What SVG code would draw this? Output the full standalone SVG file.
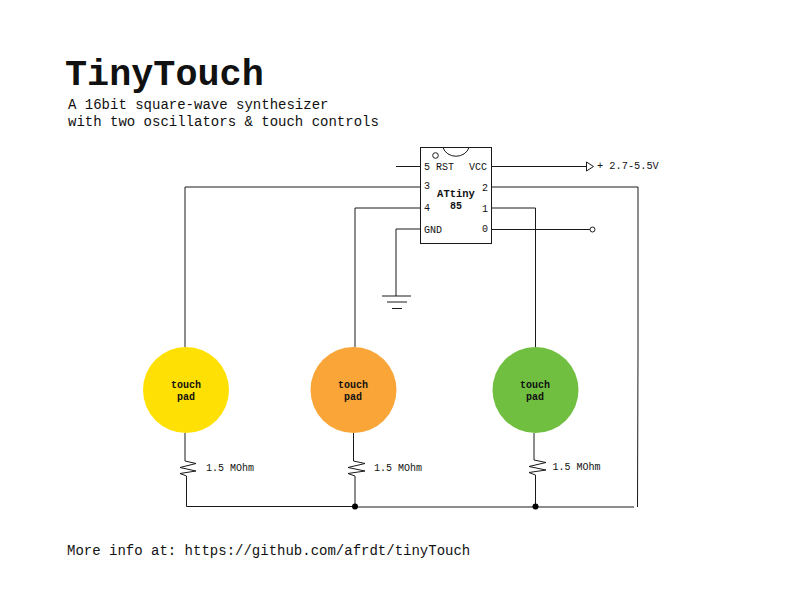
<svg xmlns="http://www.w3.org/2000/svg" width="792" height="612" viewBox="0 0 792 612">
<style>
text{font-family:"Liberation Mono","Courier New",monospace;fill:#111}
.s{font-size:10px}
.m{font-size:14px}
.b{font-weight:bold}
.c{text-anchor:middle}
.w{fill:none;stroke:#1a1a1a;stroke-width:1}
</style>
<rect width="792" height="612" fill="#fff"/>
<g id="titles">
<text x="65" y="85" class="b" style="font-size:36.8px">TinyTouch</text>
<text x="68" y="108.500" class="m">A 16bit square-wave synthesizer</text>
<text x="68" y="125.500" class="m">with two oscillators &amp; touch controls</text>
<text x="67" y="554.500" class="m">More info at: https://github.com/afrdt/tinyTouch</text>
</g>
<g id="connectors">
<path class="w" d="M396 166.500H420"/>
<path class="w" d="M420 187H185V347"/>
<path class="w" d="M420 208H355V347"/>
<path class="w" d="M420 229H396V296"/>
<path class="w" d="M492 166.500H586"/>
<path class="w" d="M492 187H638V350L637.500 507"/>
<path class="w" d="M492 208H535.500V347"/>
<path class="w" d="M492 229.500H590"/>
<path class="w" d="M185 433V461L196 463.500 180 467.500 196 471 180 473.500 186.500 476V506.500H355"/>
<path class="w" d="M355 507H634"/>
<path class="w" d="M353.500 433V461L365 463.500 348 467.500 365 471 348 473.500 355 476V507"/>
<path class="w" d="M534 433V460L546 462.500 529 466.500 546 470 529 472.500 535.500 475V507"/>
<circle cx="355" cy="506.500" r="3" fill="#000"/>
<circle cx="535.500" cy="506.500" r="3" fill="#000"/>
</g>
<g id="chip">
<rect x="420.500" y="147.500" width="71" height="96" fill="#fff" stroke="#1a1a1a"/>
<path class="w" d="M443 147.500A13.500 12 0 0 0 469 147.500"/>
<circle cx="435.500" cy="155.500" r="2.800" class="w"/>
<text x="424" y="170" class="s">5</text>
<text x="436" y="170" class="s">RST</text>
<text x="469" y="170" class="s">VCC</text>
<text x="424" y="189" class="s">3</text>
<text x="424" y="211" class="s">4</text>
<text x="424" y="232.500" class="s">GND</text>
<text x="482" y="190.500" class="s">2</text>
<text x="482" y="212" class="s">1</text>
<text x="482" y="232" class="s">0</text>
<text x="456" y="197" class="s b c" style="font-size:10.500px">ATtiny</text>
<text x="456" y="209" class="s b c">85</text>
</g>
<g id="power">
<path d="M586.500 162V171L593.500 166.500Z" fill="#fff" stroke="#1a1a1a"/>
<text x="597" y="169" class="s" style="font-size:10.300px">+ 2.7-5.5V</text>
</g>
<g id="output">
<circle cx="592.500" cy="229.500" r="2.500" fill="#fff" stroke="#1a1a1a"/>
</g>
<g id="ground">
<path class="w" d="M382 296H411M387 302H407M392 308.500H402"/>
</g>
<g id="pad1">
<circle cx="186" cy="390" r="43" fill="#ffe005"/>
<text x="186" y="388" class="s b c">touch</text>
<text x="186" y="400" class="s b c">pad</text>
</g>
<g id="pad2">
<circle cx="353.500" cy="390" r="43" fill="#faa537"/>
<text x="353" y="388" class="s b c">touch</text>
<text x="353" y="400" class="s b c">pad</text>
</g>
<g id="pad3">
<circle cx="535.500" cy="390" r="43" fill="#70bf41"/>
<text x="535" y="388" class="s b c">touch</text>
<text x="535" y="400" class="s b c">pad</text>
</g>
<g id="labels">
<text x="206" y="470.500" class="s">1.5 MOhm</text>
<text x="374" y="470.500" class="s">1.5 MOhm</text>
<text x="552.500" y="469.500" class="s">1.5 MOhm</text>
</g>
</svg>
